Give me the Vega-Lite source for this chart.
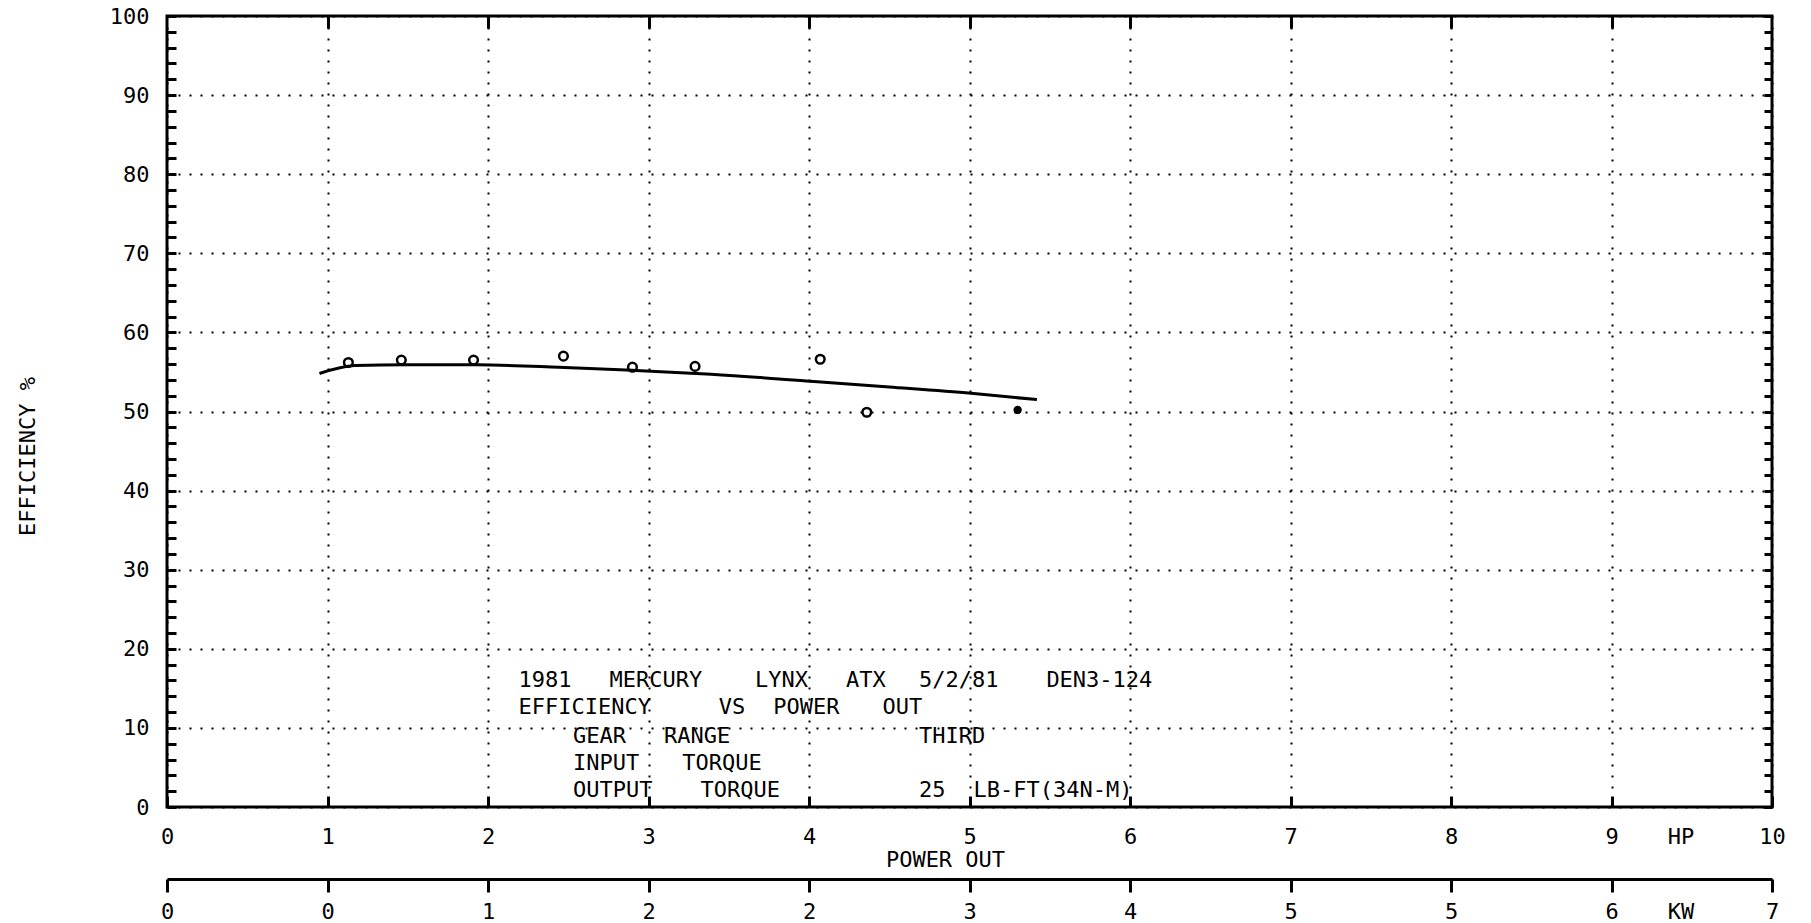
{
  "$schema": "https://vega.github.io/schema/vega-lite/v6.json",
  "width": 1605,
  "height": 791,
  "autosize": "none",
  "padding": {"left": 167, "top": 16, "right": 39, "bottom": 116},
  "background": "white",
  "config": {
    "view": {"stroke": "black", "strokeWidth": 3},
    "font": "DejaVu Sans Mono",
    "axis": {
      "labelFont": "DejaVu Sans Mono",
      "titleFont": "DejaVu Sans Mono",
      "labelColor": "black",
      "titleColor": "black",
      "domainColor": "black",
      "labelFontSize": 22,
      "titleFontSize": 22,
      "titleFontWeight": "normal",
      "gridColor": "black",
      "gridOpacity": 1,
      "labelOverlap": false,
      "labelFlush": false
    }
  },
  "datasets": {
    "curve": [
      {"hp": 0.95, "eff": 54.8},
      {"hp": 1.17, "eff": 55.8},
      {"hp": 1.49, "eff": 55.9},
      {"hp": 1.93, "eff": 55.9},
      {"hp": 2.44, "eff": 55.6},
      {"hp": 2.9, "eff": 55.2},
      {"hp": 3.39, "eff": 54.7},
      {"hp": 4.03, "eff": 53.8},
      {"hp": 4.5, "eff": 53.1},
      {"hp": 5.01, "eff": 52.3},
      {"hp": 5.42, "eff": 51.5}
    ],
    "points": [
      {"hp": 1.13, "eff": 56.2, "marker": "open"},
      {"hp": 1.46, "eff": 56.5, "marker": "open"},
      {"hp": 1.91, "eff": 56.5, "marker": "open"},
      {"hp": 2.47, "eff": 57.0, "marker": "open"},
      {"hp": 2.9, "eff": 55.6, "marker": "open"},
      {"hp": 3.29, "eff": 55.7, "marker": "open"},
      {"hp": 4.07, "eff": 56.6, "marker": "open"},
      {"hp": 4.36, "eff": 49.9, "marker": "open"},
      {"hp": 5.3, "eff": 50.2, "marker": "solid"}
    ],
    "notes": [
      {"word": "1981", "hp": 2.19, "eff": 16.1, "block": "header"},
      {"word": "MERCURY", "hp": 2.757, "eff": 16.1, "block": "header"},
      {"word": "LYNX", "hp": 3.664, "eff": 16.1, "block": "header"},
      {"word": "ATX", "hp": 4.231, "eff": 16.1, "block": "header"},
      {"word": "5/2/81", "hp": 4.685, "eff": 16.1, "block": "header"},
      {"word": "DEN3-124", "hp": 5.479, "eff": 16.1, "block": "header"},
      {"word": "EFFICIENCY", "hp": 2.19, "eff": 12.6, "block": "header"},
      {"word": "VS", "hp": 3.437, "eff": 12.6, "block": "header"},
      {"word": "POWER", "hp": 3.778, "eff": 12.6, "block": "header"},
      {"word": "OUT", "hp": 4.458, "eff": 12.6, "block": "header"},
      {"word": "GEAR", "hp": 2.53, "eff": 9.0, "block": "spec"},
      {"word": "RANGE", "hp": 3.097, "eff": 9.0, "block": "spec"},
      {"word": "THIRD", "hp": 4.685, "eff": 9.0, "block": "spec"},
      {"word": "INPUT", "hp": 2.53, "eff": 5.6, "block": "spec"},
      {"word": "TORQUE", "hp": 3.21, "eff": 5.6, "block": "spec"},
      {"word": "OUTPUT", "hp": 2.53, "eff": 2.2, "block": "spec"},
      {"word": "TORQUE", "hp": 3.324, "eff": 2.2, "block": "spec"},
      {"word": "25", "hp": 4.685, "eff": 2.2, "block": "spec"},
      {"word": "LB-FT(34N-M)", "hp": 5.025, "eff": 2.2, "block": "spec"}
    ]
  },
  "resolve": {"axis": {"x": "independent", "y": "independent"}},
  "layer": [
    {
      "data": {"name": "curve"},
      "mark": {"type": "line", "color": "black", "strokeWidth": 3, "interpolate": "monotone"},
      "encoding": {
        "x": {
          "field": "hp", "type": "quantitative",
          "scale": {"domain": [0, 10], "nice": false, "zero": false},
          "axis": {
            "orient": "bottom",
            "offset": -11,
            "values": [0, 1, 2, 3, 4, 5, 6, 7, 8, 9, 10],
            "format": "d",
            "ticks": true,
            "tickColor": "black",
            "tickSize": 11,
            "tickWidth": 3,
            "labelPadding": 29,
            "labelBaseline": "middle",
            "labelAlign": "center",
            "domain": false,
            "grid": true,
            "gridDash": [2, 9],
            "gridWidth": 2,
            "title": "POWER OUT",
            "titleX": 778,
            "titleY": 63,
            "titleBaseline": "middle",
            "titleAlign": "center"
          }
        },
        "y": {
          "field": "eff", "type": "quantitative",
          "scale": {"domain": [0, 100], "nice": false, "zero": false},
          "axis": {
            "orient": "left",
            "offset": -9,
            "values": [0,2,4,6,8,10,12,14,16,18,20,22,24,26,28,30,32,34,36,38,40,42,44,46,48,50,52,54,56,58,60,62,64,66,68,70,72,74,76,78,80,82,84,86,88,90,92,94,96,98,100],
            "labelExpr": "datum.value % 10 === 0 ? datum.label : ''",
            "ticks": true,
            "tickColor": "black",
            "tickSize": 9,
            "tickWidth": 3,
            "labelPadding": 18,
            "labelBaseline": "middle",
            "labelAlign": "right",
            "domain": false,
            "grid": true,
            "gridDash": [2, 9],
            "gridWidth": 2,
            "gridOpacity": {"condition": {"test": "datum.value % 10 === 0", "value": 1}, "value": 0},
            "title": "EFFICIENCY  %",
            "titleAngle": 270,
            "titleX": -149,
            "titleY": 440,
            "titleBaseline": "middle",
            "titleAlign": "center"
          }
        }
      }
    },
    {
      "data": {"name": "points"},
      "transform": [{"filter": "datum.marker === 'open'"}],
      "mark": {"type": "point", "shape": "circle", "size": 75, "strokeWidth": 2.5, "color": "black", "filled": false, "opacity": 1},
      "encoding": {
        "x": {
          "field": "hp", "type": "quantitative",
          "scale": {"domain": [0, 10], "nice": false, "zero": false},
          "axis": {"orient": "top", "offset": -12, "values": [1, 2, 3, 4, 5, 6, 7, 8, 9], "labels": false, "ticks": true, "tickColor": "black", "tickSize": 12, "tickWidth": 3, "domain": false, "grid": false, "title": null}
        },
        "y": {
          "field": "eff", "type": "quantitative",
          "scale": {"domain": [0, 100], "nice": false, "zero": false},
          "axis": {
            "orient": "right",
            "offset": -8,
            "values": [0,2,4,6,8,10,12,14,16,18,20,22,24,26,28,30,32,34,36,38,40,42,44,46,48,50,52,54,56,58,60,62,64,66,68,70,72,74,76,78,80,82,84,86,88,90,92,94,96,98,100],
            "labels": false, "ticks": true, "tickColor": "black", "tickSize": 8, "tickWidth": 3, "domain": false, "grid": false, "title": null
          }
        }
      }
    },
    {
      "data": {"name": "points"},
      "transform": [{"filter": "datum.marker === 'solid'"}],
      "mark": {"type": "point", "shape": "circle", "size": 70, "strokeWidth": 2.5, "color": "black", "filled": true, "opacity": 1},
      "encoding": {
        "x": {
          "field": "hp", "type": "quantitative",
          "scale": {"domain": [0, 10], "nice": false, "zero": false},
          "axis": {
            "orient": "bottom",
            "offset": 72,
            "values": [0, 1, 2, 3, 4, 5, 6, 7, 8, 9, 10],
            "labelExpr": "'' + floor(datum.value * 0.7457)",
            "ticks": true,
            "tickColor": "black",
            "tickSize": 13,
            "tickWidth": 3,
            "domain": true,
            "domainWidth": 3,
            "labelPadding": 19,
            "labelBaseline": "middle",
            "labelAlign": "center",
            "grid": false,
            "title": null
          }
        },
        "y": {
          "field": "eff", "type": "quantitative",
          "scale": {"domain": [0, 100], "nice": false, "zero": false},
          "axis": null
        }
      }
    },
    {
      "data": {"name": "notes"},
      "transform": [{"filter": "datum.block === 'header'"}],
      "mark": {"type": "text", "align": "left", "baseline": "middle", "font": "DejaVu Sans Mono", "fontSize": 22, "color": "black"},
      "encoding": {
        "x": {
          "field": "hp", "type": "quantitative",
          "scale": {"domain": [0, 10], "nice": false, "zero": false},
          "axis": {"orient": "bottom", "values": [9.43], "labelExpr": "'HP'", "ticks": false, "domain": false, "grid": false, "labelPadding": 29, "labelBaseline": "middle", "labelAlign": "center", "title": null}
        },
        "y": {
          "field": "eff", "type": "quantitative",
          "scale": {"domain": [0, 100], "nice": false, "zero": false},
          "axis": null
        },
        "text": {"field": "word"}
      }
    },
    {
      "data": {"name": "notes"},
      "transform": [{"filter": "datum.block === 'spec'"}],
      "mark": {"type": "text", "align": "left", "baseline": "middle", "font": "DejaVu Sans Mono", "fontSize": 22, "color": "black"},
      "encoding": {
        "x": {
          "field": "hp", "type": "quantitative",
          "scale": {"domain": [0, 10], "nice": false, "zero": false},
          "axis": {"orient": "bottom", "offset": 72, "values": [9.43], "labelExpr": "'KW'", "ticks": false, "domain": false, "grid": false, "labelPadding": 32, "labelBaseline": "middle", "labelAlign": "center", "title": null}
        },
        "y": {
          "field": "eff", "type": "quantitative",
          "scale": {"domain": [0, 100], "nice": false, "zero": false},
          "axis": null
        },
        "text": {"field": "word"}
      }
    }
  ]
}
